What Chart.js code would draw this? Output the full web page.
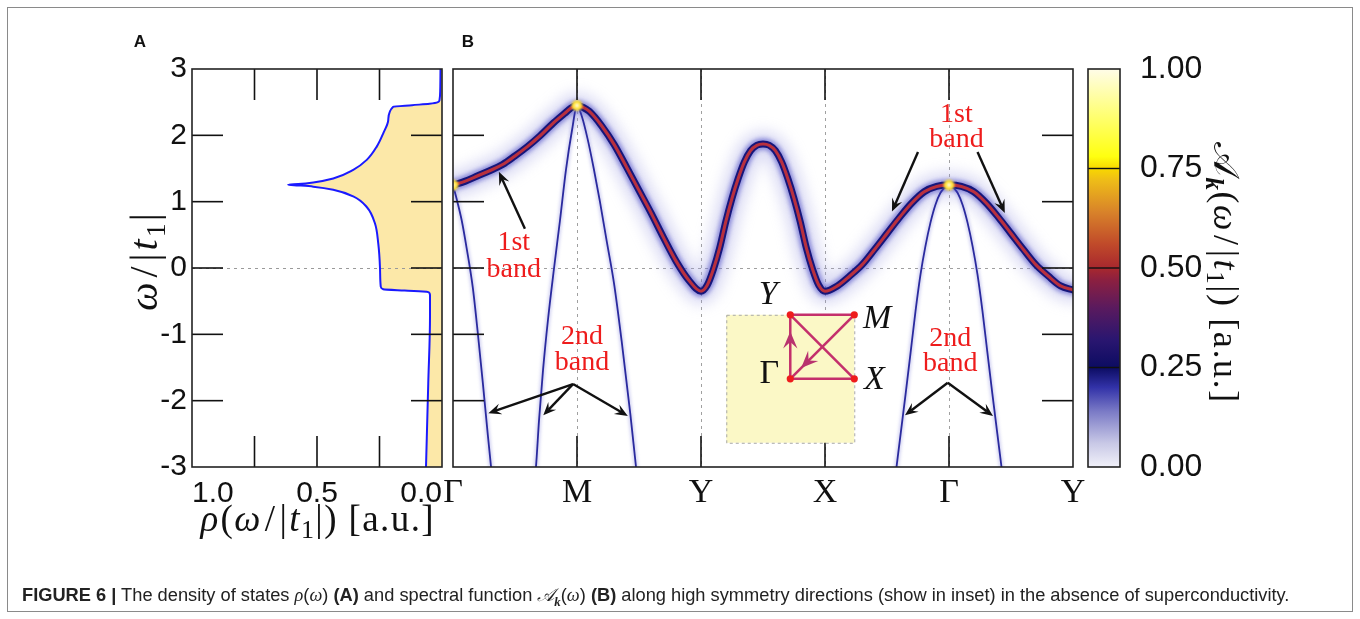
<!DOCTYPE html>
<html>
<head>
<meta charset="utf-8">
<script src="https://cdn.jsdelivr.net/npm/chart.js@4.4.1/dist/chart.umd.min.js"></script>
<style>
  html, body { margin: 0; padding: 0; background: #fff; }
  #wrap { position: relative; width: 1360px; height: 619px; overflow: hidden; background: #fff; }
  #wrap canvas { position: absolute; left: 0; top: 0; }
  #frame { position: absolute; left: 7px; top: 7px; width: 1346px; height: 605px; border: 1px solid #8a8a8a; box-sizing: border-box; }
  #caption { position: absolute; left: 22px; top: 584px; font-family: "Liberation Sans", Arial, sans-serif; font-size: 16px; color: #222; white-space: nowrap; }
  #caption .m { font-family: "Liberation Serif", serif; font-style: italic; }
</style>
</head>
<body>
<div id="wrap">
  <div id="frame"></div>
  <canvas id="dos" width="1360" height="619"></canvas>
  <canvas id="spec" width="1360" height="619"></canvas>
  <canvas id="cbar" width="1360" height="619"></canvas>
  <div id="caption"><b>FIGURE 6 |</b> The density of states <span class="m">ρ</span>(<span class="m">ω</span>) <b>(A)</b> and spectral function <span class="m">𝒜<sub style="font-size:70%"><b>k</b></sub></span>(<span class="m">ω</span>) <b>(B)</b> along high symmetry directions (show in inset) in the absence of superconductivity.</div>
</div>
<script>
// ---------- Panel A: density of states (ω from bottom to top) ----------
const dosOmega = [-3.0, -1.74, -0.73, -0.41, -0.38, -0.357, -0.34, -0.32, -0.28, 0.0, 0.37, 0.67, 0.92, 1.08, 1.18, 1.226, 1.245, 1.256,
                  1.265, 1.29, 1.35, 1.48, 1.63, 1.83, 2.03, 2.23, 2.43, 2.455, 2.475, 2.50, 2.53, 2.7, 3.0];
const dosRho   = [0.064, 0.055, 0.048, 0.048, 0.05, 0.061, 0.15, 0.235, 0.245, 0.248, 0.255, 0.268, 0.301, 0.355, 0.435, 0.515, 0.575, 0.615,
                  0.575, 0.515, 0.435, 0.355, 0.301, 0.261, 0.235, 0.215, 0.195, 0.12, 0.05, 0.016, 0.010, 0.007, 0.006];
const rhoTickText = { 0: '0.0', 0.5: '0.5', 1: '1.0' };

// ---------- Panel B: spectral function along Γ–M–Y–X–Γ–Y ----------
const kPathLabels = ['Γ', 'M', 'Y', 'X', 'Γ', 'Y'];
const band1K = [0, 0.1, 0.2, 0.3, 0.4, 0.5, 0.6, 0.7, 0.8, 0.9, 0.95, 1.0,
                1.05, 1.1, 1.2, 1.3, 1.4, 1.5, 1.6, 1.7, 1.8, 1.9, 2.0,
                2.05, 2.1, 2.15, 2.2, 2.25, 2.3, 2.35, 2.4, 2.45, 2.5, 2.55, 2.6, 2.65, 2.7, 2.75, 2.8, 2.85, 2.9, 2.95, 3.0,
                3.1, 3.2, 3.3, 3.4, 3.5, 3.6, 3.7, 3.8, 3.9, 4.0,
                4.1, 4.2, 4.3, 4.4, 4.5, 4.6, 4.7, 4.8, 4.9, 5.0];
const band1E = [1.25, 1.31, 1.39, 1.47, 1.56, 1.69, 1.83, 1.99, 2.17, 2.33, 2.41, 2.45,
                2.42, 2.36, 2.14, 1.86, 1.52, 1.17, 0.82, 0.45, 0.10, -0.18, -0.35,
                -0.26, -0.02, 0.30, 0.70, 1.05, 1.35, 1.60, 1.77, 1.85, 1.87, 1.85, 1.77, 1.60, 1.35, 1.05, 0.70, 0.30, -0.02, -0.26, -0.35,
                -0.27, -0.12, 0.05, 0.28, 0.52, 0.76, 0.98, 1.15, 1.23, 1.25,
                1.23, 1.15, 0.98, 0.76, 0.52, 0.28, 0.05, -0.12, -0.27, -0.33];
// second band: branch leaving Γ towards M
const band2aK = [0, 0.035, 0.07, 0.11, 0.16, 0.20, 0.24, 0.28, 0.307, 0.32];
const band2aE = [1.25, 1.0, 0.72, 0.3, -0.3, -0.98, -1.72, -2.5, -3.0, -3.25];
// second band: both branches around M
const band2bK = [0.66, 0.669, 0.694, 0.726, 0.766, 0.815, 0.863, 0.911, 0.96, 1.0,
                 1.04, 1.085, 1.135, 1.185, 1.24, 1.30, 1.36, 1.43, 1.476, 1.485];
const band2bE = [-3.15, -3.0, -2.29, -1.54, -0.78, 0.0, 0.72, 1.48, 2.08, 2.45,
                 2.28, 1.95, 1.5, 1.0, 0.4, -0.25, -1.1, -2.2, -3.0, -3.15];
// second band: both branches around the second Γ
const band2cK = [3.56, 3.57, 3.61, 3.65, 3.69, 3.73, 3.77, 3.81, 3.85, 3.89, 3.93, 3.965, 4.0,
                 4.035, 4.07, 4.11, 4.15, 4.19, 4.23, 4.27, 4.31, 4.35, 4.39, 4.43, 4.44];
const band2cE = [-3.25, -3.1, -2.5, -1.9, -1.28, -0.65, -0.1, 0.33, 0.68, 0.95, 1.13, 1.21, 1.25,
                 1.21, 1.13, 0.95, 0.68, 0.33, -0.1, -0.65, -1.28, -1.9, -2.5, -3.1, -3.25];
// band maxima where the intensity saturates
const peakK = [0, 1, 4];
const peakE = [1.25, 2.45, 1.25];

// ---------- colour scale ----------
const cbarStops = [[0.00, '#f1f1f9'], [0.06, '#c8c8e6'], [0.14, '#7a7ac6'], [0.20, '#3232a8'], [0.25, '#0c0c62'],
                   [0.32, '#2a1670'], [0.40, '#5a1a5e'], [0.47, '#8c2040'], [0.50, '#a8282e'], [0.56, '#c04a2a'],
                   [0.64, '#d8822a'], [0.72, '#eebc18'], [0.75, '#f8d800'], [0.78, '#ffff10'], [0.88, '#ffff70'], [1.00, '#fffce8']];

const SERIF = '"Liberation Serif", "DejaVu Serif", serif';
const SANS = '"Liberation Sans", Arial, sans-serif';
const TICK = 31;
const pts = (xs, ys) => xs.map((x, i) => ({ x, y: ys[i] }));

// ---------- drawing helpers ----------
function seg(ctx, x0, y0, x1, y1) { ctx.beginPath(); ctx.moveTo(x0, y0); ctx.lineTo(x1, y1); ctx.stroke(); }
function frame(ctx, a) {
  ctx.save(); ctx.strokeStyle = '#222'; ctx.lineWidth = 1.6; ctx.setLineDash([]);
  ctx.strokeRect(a.left, a.top, a.right - a.left, a.bottom - a.top); ctx.restore();
}
function inner(scale) { return scale.ticks.map(t => t.value).filter(v => v > scale.min + 1e-9 && v < scale.max - 1e-9); }
function inwardTicks(ctx, chart, len) {
  const { chartArea: a, scales: { x, y } } = chart;
  ctx.save(); ctx.strokeStyle = '#111'; ctx.lineWidth = 1.6; ctx.setLineDash([]);
  inner(x).forEach(v => { const p = x.getPixelForValue(v); seg(ctx, p, a.bottom, p, a.bottom - len); seg(ctx, p, a.top, p, a.top + len); });
  inner(y).forEach(v => { const p = y.getPixelForValue(v); seg(ctx, a.left, p, a.left + len, p); seg(ctx, a.right, p, a.right - len, p); });
  ctx.restore();
}
// mixed italic/upright math text, drawn glyph by glyph with extra tracking
function richWidth(ctx, parts, ls) {
  let w = 0;
  parts.forEach(s => { ctx.font = s.f; for (const ch of s.t) w += ctx.measureText(ch).width + ls; w += (s.sp || 0); });
  return w - ls;
}
function drawRich(ctx, parts, cx, cy, rot, ls) {
  ls = ls || 0;
  ctx.save(); ctx.translate(cx, cy); ctx.rotate(rot || 0);
  const w = richWidth(ctx, parts, ls); let x = -w / 2;
  ctx.textAlign = 'left'; ctx.textBaseline = 'alphabetic';
  parts.forEach(s => {
    ctx.font = s.f; ctx.fillStyle = s.c || '#111';
    for (const ch of s.t) { ctx.fillText(ch, x, s.dy || 0); x += ctx.measureText(ch).width + ls; }
    x += (s.sp || 0);
  });
  ctx.restore();
}
const it = (t, px, sp) => ({ t, f: `italic ${px}px ${SERIF}`, sp });
const up = (t, px, sp) => ({ t, f: `${px}px ${SERIF}`, sp });
const sb = (t, px, dy, style) => ({ t, f: `${style || ''} ${Math.round(px * 0.7)}px ${SERIF}`, dy });
function omegaOverT(px) {
  return [it('ω', px, 3), up('/', px, 3), up('|', px, 1), it('t', px), sb('1', px, px * 0.2), up('|', px)];
}
function arrow(ctx, x0, y0, x1, y1, color, w, head) {
  const a = Math.atan2(y1 - y0, x1 - x0), c = Math.cos(a), s = Math.sin(a);
  ctx.save(); ctx.strokeStyle = color; ctx.fillStyle = color; ctx.lineWidth = w; ctx.setLineDash([]);
  seg(ctx, x0, y0, x1 - c * head * 0.6, y1 - s * head * 0.6);
  ctx.beginPath(); ctx.moveTo(x1, y1);
  ctx.lineTo(x1 - head * c + head * 0.42 * s, y1 - head * s - head * 0.42 * c);
  ctx.lineTo(x1 - head * 0.62 * c, y1 - head * 0.62 * s);
  ctx.lineTo(x1 - head * c - head * 0.42 * s, y1 - head * s + head * 0.42 * c);
  ctx.closePath(); ctx.fill(); ctx.restore();
}

// soft glow for layers that carry a blur radius
const glowPlugin = {
  id: 'glow',
  beforeDatasetDraw(chart, args) {
    const ds = chart.data.datasets[args.index];
    chart.ctx.save();
    if (ds.blur) chart.ctx.filter = `blur(${ds.blur}px)`;
  },
  afterDatasetDraw(chart) { chart.ctx.restore(); }
};

const common = {
  responsive: false, animation: false, devicePixelRatio: 1,
  plugins: { legend: { display: false }, tooltip: { enabled: false } }
};

// ================= Panel A =================
const decorA = {
  id: 'decorA',
  afterDatasetsDraw(chart) {
    const { ctx, chartArea: a, scales: { y } } = chart;
    ctx.save();
    ctx.strokeStyle = '#9a9a9a'; ctx.lineWidth = 1; ctx.setLineDash([3, 4]);
    const y0 = Math.round(y.getPixelForValue(0)) + 0.5;
    seg(ctx, a.left, y0, a.right, y0);
    ctx.restore();
    inwardTicks(ctx, chart, TICK);
    frame(ctx, a);
    ctx.save();
    ctx.font = `bold 17px ${SANS}`; ctx.fillStyle = '#111'; ctx.textAlign = 'center'; ctx.textBaseline = 'middle';
    ctx.fillText('A', a.left - 52, a.top - 27);
    ctx.restore();
    drawRich(ctx, omegaOverT(40), 157, (a.top + a.bottom) / 2 - 6, -Math.PI / 2, 2);
    const px = 37;
    drawRich(ctx, [it('ρ', px, 1), up('(', px)].concat(omegaOverT(px), [up(')', px), up(' [a.u.]', px)]),
             (a.left + a.right) / 2, 531, 0, 1.4);
  }
};

new Chart(document.getElementById('dos'), {
  type: 'line',
  data: { datasets: [{
    data: pts(dosRho, dosOmega),
    borderColor: '#1a1aff', borderWidth: 2, backgroundColor: '#fce8a8',
    fill: 'origin', pointRadius: 0, cubicInterpolationMode: 'monotone', clip: 0
  }]},
  options: Object.assign({}, common, {
    indexAxis: 'y',
    layout: { padding: { left: 132, right: 918, top: 69, bottom: 92 } },
    scales: {
      x: { type: 'linear', reverse: true, min: 0, max: 1, position: 'bottom',
           grid: { display: false, drawTicks: false }, border: { display: false },
           ticks: { stepSize: 0.25, autoSkip: false, maxRotation: 0, align: 'inner', padding: 9,
                    font: { family: SANS, size: 30 }, color: '#111', callback: v => rhoTickText[v] ?? '' },
           // list ticks left to right so the end labels sit inside the panel
           afterBuildTicks: s => { s.ticks.reverse(); },
           afterFit: s => { s.height = 60; } },
      y: { type: 'linear', min: -3, max: 3, position: 'left',
           grid: { display: false, drawTicks: false }, border: { display: false },
           ticks: { stepSize: 1, autoSkip: false, padding: 5, font: { family: SANS, size: 30 }, color: '#111',
                    callback: v => String(v) },
           afterFit: s => { s.width = 60; } }
    }
  }),
  plugins: [decorA]
});

// ================= Panel B =================
const decorB = {
  id: 'decorB',
  beforeDatasetsDraw(chart) {
    const { ctx, chartArea: a, scales: { x, y } } = chart;
    ctx.save();
    ctx.strokeStyle = '#a0a0a0'; ctx.lineWidth = 1; ctx.setLineDash([3, 4]);
    inner(x).forEach(v => { const p = Math.round(x.getPixelForValue(v)) + 0.5; seg(ctx, p, a.top, p, a.bottom); });
    const y0 = Math.round(y.getPixelForValue(0)) + 0.5;
    seg(ctx, a.left, y0, a.right, y0);
    ctx.restore();
  },
  afterDatasetsDraw(chart) {
    const { ctx, chartArea: a, scales: { x, y } } = chart;
    const X = v => x.getPixelForValue(v), Y = v => y.getPixelForValue(v);
    inwardTicks(ctx, chart, TICK);
    frame(ctx, a);
    ctx.save();
    ctx.font = `bold 17px ${SANS}`; ctx.fillStyle = '#111'; ctx.textAlign = 'center'; ctx.textBaseline = 'middle';
    ctx.fillText('B', a.left + 15, a.top - 27);

    // band annotations
    ctx.font = `28px ${SERIF}`; ctx.fillStyle = '#ee1c1c';
    const label = (k, e1, e2, t1, t2) => { ctx.fillText(t1, X(k), Y(e1)); ctx.fillText(t2, X(k), Y(e2)); };
    label(0.49, 0.38, -0.03, '1st', 'band');
    label(4.06, 2.31, 1.93, '1st', 'band');
    label(1.04, -1.04, -1.42, '2nd', 'band');
    label(4.01, -1.06, -1.44, '2nd', 'band');
    ctx.restore();
    const ar = (k0, e0, k1, e1) => arrow(ctx, X(k0), Y(e0), X(k1), Y(e1), '#111', 2.4, 13);
    ar(0.58, 0.59, 0.37, 1.45);
    ar(3.75, 1.75, 3.54, 0.85);
    ar(4.23, 1.75, 4.45, 0.83);
    ar(0.968, -1.75, 0.285, -2.19);
    ar(0.968, -1.75, 0.728, -2.22);
    ar(0.968, -1.75, 1.41, -2.23);
    ar(3.99, -1.73, 3.645, -2.22);
    ar(3.99, -1.73, 4.355, -2.23);

    // inset: first Brillouin zone and the path through it
    const cx = X(2.72), cy = Y(-1.67), h = 64;
    ctx.save();
    ctx.fillStyle = '#fbf8c6'; ctx.fillRect(cx - h, cy - h, 2 * h, 2 * h);
    ctx.strokeStyle = '#a8a8a8'; ctx.lineWidth = 1; ctx.setLineDash([3, 3]);
    ctx.strokeRect(cx - h + 0.5, cy - h + 0.5, 2 * h, 2 * h);
    ctx.setLineDash([]);
    const G = [cx, cy], Xp = [cx + h, cy], M = [cx + h, cy - h], Yp = [cx, cy - h];
    ctx.strokeStyle = '#c4306c'; ctx.lineWidth = 2.5;
    [[G, Xp], [Xp, Yp], [Yp, M], [M, G], [G, Yp]].forEach(([p, q]) => seg(ctx, p[0], p[1], q[0], q[1]));
    arrow(ctx, cx, cy - 20, cx, cy - 0.74 * h, '#b8336e', 0.1, 17);
    arrow(ctx, cx + 0.5 * h, cy - 0.5 * h, cx + 0.17 * h, cy - 0.17 * h, '#b8336e', 0.1, 17);
    ctx.fillStyle = '#ee1c1c';
    [G, Xp, M, Yp].forEach(p => { ctx.beginPath(); ctx.arc(p[0], p[1], 3.6, 0, 2 * Math.PI); ctx.fill(); });
    ctx.fillStyle = '#111'; ctx.textAlign = 'center'; ctx.textBaseline = 'middle';
    ctx.font = `italic 34px ${SERIF}`;
    ctx.fillText('Y', cx - 22, cy - h - 20);
    ctx.fillText('M', cx + h + 23, cy - h + 4);
    ctx.fillText('X', cx + h + 20, cy + 1);
    ctx.font = `34px ${SERIF}`;
    ctx.fillText('Γ', cx - 21, cy - 5);
    ctx.restore();
  }
};

const layer = (data, color, width, extra) => Object.assign({
  data, borderColor: color, borderWidth: width, pointRadius: 0, fill: false, clip: 0,
  cubicInterpolationMode: 'monotone', borderCapStyle: 'round', borderJoinStyle: 'round'
}, extra);
const band1 = pts(band1K, band1E);
const band2 = [pts(band2aK, band2aE), pts(band2bK, band2bE), pts(band2cK, band2cE)];

new Chart(document.getElementById('spec'), {
  type: 'line',
  data: { datasets: [
    layer(band1, 'rgba(160,160,226,0.38)', 26, { order: 20, blur: 7 }),
    ...band2.map(d => layer(d, 'rgba(120,120,215,0.30)', 5, { order: 16, blur: 1.5 })),
    ...band2.map(d => layer(d, '#2a2a9e', 1.8, { order: 15 })),
    layer(band1, 'rgba(70,70,195,0.55)', 11.5, { order: 10, blur: 2 }),
    layer(band1, '#16167a', 7, { order: 8 }),
    layer(band1, '#b8303e', 3.1, { order: 6 }),
    { data: pts(peakK, peakE), showLine: false, pointRadius: 5.5, pointBorderWidth: 0,
      pointBackgroundColor: '#ffe23a', clip: 0, order: 3, blur: 1.2 },
    { data: pts(peakK, peakE), showLine: false, pointRadius: 2, pointBorderWidth: 0,
      pointBackgroundColor: '#fffbe0', clip: 0, order: 2, blur: 0.8 }
  ]},
  options: Object.assign({}, common, {
    layout: { padding: { left: 453, right: 287, top: 69, bottom: 92 } },
    scales: {
      x: { type: 'linear', min: 0, max: 5, position: 'bottom',
           grid: { display: false, drawTicks: false }, border: { display: false },
           ticks: { stepSize: 1, autoSkip: false, maxRotation: 0, padding: 6,
                    font: { family: SERIF, size: 34 }, color: '#111', callback: v => kPathLabels[v] ?? '' },
           afterFit: s => { s.height = 60; } },
      y: { type: 'linear', min: -3, max: 3, display: false, ticks: { stepSize: 1 } }
    }
  }),
  plugins: [glowPlugin, decorB]
});

// ================= Colour bar =================
const decorC = {
  id: 'decorC',
  afterDatasetsDraw(chart) {
    const { ctx, chartArea: a, scales: { y } } = chart;
    ctx.save(); ctx.strokeStyle = '#111'; ctx.lineWidth = 1.4;
    inner(y).forEach(v => { const p = y.getPixelForValue(v); seg(ctx, a.left, p, a.right, p); });
    ctx.restore();
    frame(ctx, a);
    const px = 36;
    drawRich(ctx, [{ t: '𝒜', f: `${px}px "DejaVu Serif", "DejaVu Sans", ${SERIF}` }, sb('k', px, px * 0.22, 'bold italic'), up('(', px)]
               .concat(omegaOverT(px), [up(')', px), up(' [a.u.]', px)]),
             1214, (a.top + a.bottom) / 2 + 4, Math.PI / 2, 1.6);
  }
};

new Chart(document.getElementById('cbar'), {
  type: 'bar',
  data: { labels: [''], datasets: [{
    data: [[0, 1]], borderWidth: 0, barPercentage: 1, categoryPercentage: 1,
    backgroundColor: c => {
      const a = c.chart.chartArea;
      if (!a) return '#000';
      const g = c.chart.ctx.createLinearGradient(0, a.bottom, 0, a.top);
      cbarStops.forEach(([p, col]) => g.addColorStop(p, col));
      return g;
    }
  }]},
  options: Object.assign({}, common, {
    layout: { padding: { left: 1088, right: 140, top: 69, bottom: 152 } },
    scales: {
      x: { display: false },
      y: { position: 'right', min: 0, max: 1,
           grid: { display: false, drawTicks: false }, border: { display: false },
           ticks: { stepSize: 0.25, padding: 20, font: { family: SANS, size: 32 }, color: '#111',
                    callback: v => v.toFixed(2) },
           afterFit: s => { s.width = 100; } }
    }
  }),
  plugins: [decorC]
});

// caption set to span the figure width
(function fitCaption() {
  const el = document.getElementById('caption');
  const target = 1268;
  const w = el.getBoundingClientRect().width;
  if (w > 0) el.style.fontSize = (16 * target / w).toFixed(2) + 'px';
})();
</script>
</body>
</html>
